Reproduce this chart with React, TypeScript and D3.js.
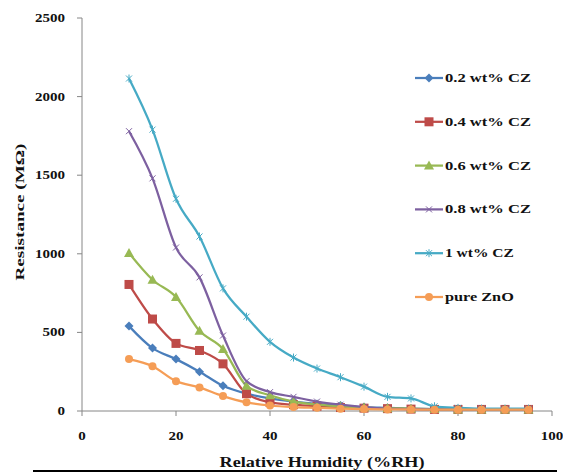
import React from "react";
import * as d3 from "d3";

const humidity = [10, 15, 20, 25, 30, 35, 40, 45, 50, 55, 60, 65, 70, 75, 80, 85, 90, 95];
const seriesNames = ["0.2 wt% CZ", "0.4 wt% CZ", "0.6 wt% CZ", "0.8 wt% CZ", "1 wt% CZ", "pure ZnO"];
const cz02 = [540, 400, 330, 250, 160, 110, 80, 60, 45, 35, 25, 20, 15, 12, 10, 10, 10, 10];
const cz04 = [805, 585, 430, 385, 300, 110, 55, 40, 30, 22, 18, 15, 12, 10, 10, 10, 10, 10];
const cz06 = [1005, 835, 725, 510, 395, 160, 100, 60, 40, 30, 22, 18, 15, 12, 10, 10, 10, 10];
const cz08 = [1780, 1480, 1040, 850, 480, 190, 120, 90, 60, 40, 25, 15, 12, 10, 10, 10, 10, 10];
const cz1 = [2115, 1790, 1350, 1110, 780, 600, 440, 340, 270, 215, 155, 90, 80, 30, 20, 15, 15, 15];
const pureZnO = [330, 285, 190, 150, 95, 55, 35, 25, 20, 15, 12, 10, 10, 8, 8, 8, 8, 8];
const xTicks = [0, 20, 40, 60, 80, 100];
const yTicks = [0, 500, 1000, 1500, 2000, 2500];

const seriesValues = [cz02, cz04, cz06, cz08, cz1, pureZnO];
const colors = ["#4a7ebb", "#be4b48", "#98b954", "#7d60a0", "#46aac5", "#f59d56"];
const markerKinds = ["diamond", "square", "triangle", "x", "star", "circle"];

const FONT = "'Liberation Serif', 'Times New Roman', serif";

function Marker({ kind, x, y, color }: { kind: string; x: number; y: number; color: string }) {
  if (kind === "diamond") {
    return <path d={`M${x},${y - 4.5}L${x + 4.5},${y}L${x},${y + 4.5}L${x - 4.5},${y}Z`} fill={color} />;
  }
  if (kind === "square") {
    return <rect x={x - 4.5} y={y - 4.5} width={9} height={9} fill={color} />;
  }
  if (kind === "triangle") {
    return <path d={`M${x},${y - 5}L${x + 5},${y + 4}L${x - 5},${y + 4}Z`} fill={color} />;
  }
  if (kind === "circle") {
    return <circle cx={x} cy={y} r={4} fill={color} />;
  }
  if (kind === "x") {
    return (
      <path d={`M${x - 3},${y - 3}L${x + 3},${y + 3}M${x - 3},${y + 3}L${x + 3},${y - 3}`} stroke={color} strokeWidth={1} />
    );
  }
  return (
    <path
      d={`M${x - 3},${y - 3}L${x + 3},${y + 3}M${x - 3},${y + 3}L${x + 3},${y - 3}M${x},${y - 4}L${x},${y + 4}`}
      stroke={color}
      strokeWidth={1}
    />
  );
}

export default function App() {
  const x = d3.scaleLinear().domain([0, 100]).range([82, 552]);
  const y = d3.scaleLinear().domain([0, 2500]).range([411, 18]);
  const line = d3
    .line<number>()
    .x((_, i) => x(humidity[i]))
    .y((d) => y(d))
    .curve(d3.curveMonotoneX);

  const legendY = d3.scalePoint<string>().domain(seriesNames).range([78, 297]);

  return (
    <svg width={563} height={474} style={{ position: "absolute", left: 0, top: 0, background: "#fff" }}>
      <line x1={82} y1={y(2500)} x2={82} y2={y(0)} stroke="#868686" strokeWidth={1} />
      <line x1={82} y1={y(0)} x2={x(100)} y2={y(0)} stroke="#868686" strokeWidth={1} />
      {yTicks.map((t) => (
        <g key={"y" + t}>
          <line x1={77} x2={82} y1={y(t)} y2={y(t)} stroke="#868686" />
          <text
            x={65}
            y={y(t) + 4}
            textAnchor="end"
            fontFamily={FONT}
            fontWeight="bold"
            fontSize={12}
            textLength={String(t).length * 7.5}
            lengthAdjust="spacingAndGlyphs"
            fill="#111"
          >
            {t}
          </text>
        </g>
      ))}
      {xTicks.map((t) => (
        <g key={"x" + t}>
          <line x1={x(t)} x2={x(t)} y1={y(0)} y2={y(0) + 5} stroke="#868686" />
          <text
            x={x(t)}
            y={y(0) + 29}
            textAnchor="middle"
            fontFamily={FONT}
            fontWeight="bold"
            fontSize={12}
            textLength={String(t).length * 7.5}
            lengthAdjust="spacingAndGlyphs"
            fill="#111"
          >
            {t}
          </text>
        </g>
      ))}

      {seriesValues.map((vals, si) => (
        <g key={"s" + si}>
          <path d={line(vals) || ""} fill="none" stroke={colors[si]} strokeWidth={2.25} />
          {vals.map((v, i) => (
            <Marker key={i} kind={markerKinds[si]} x={x(humidity[i])} y={y(v)} color={colors[si]} />
          ))}
        </g>
      ))}

      {seriesNames.map((name, si) => {
        const ly = legendY(name) as number;
        return (
          <g key={"l" + si}>
            <line x1={415} x2={443} y1={ly} y2={ly} stroke={colors[si]} strokeWidth={2.25} />
            <Marker kind={markerKinds[si]} x={429} y={ly} color={colors[si]} />
            <text
              x={445}
              y={ly + 4}
              fontFamily={FONT}
              fontSize={12}
              fontWeight="bold"
              textLength={name.length * 8.6}
              lengthAdjust="spacingAndGlyphs"
              fill="#111"
            >
              {name}
            </text>
          </g>
        );
      })}

      <text
        transform="translate(24,212) rotate(-90)"
        textAnchor="middle"
        fontFamily={FONT}
        fontWeight="bold"
        fontSize={13}
        textLength={137}
        lengthAdjust="spacingAndGlyphs"
        fill="#111"
      >
        Resistance (MΩ)
      </text>
      <text
        x={322}
        y={467}
        textAnchor="middle"
        fontFamily={FONT}
        fontWeight="bold"
        fontSize={14}
        textLength={205}
        lengthAdjust="spacingAndGlyphs"
        fill="#111"
      >
        Relative Humidity (%RH)
      </text>
      <line x1={33} x2={557} y1={471} y2={471} stroke="#000" strokeWidth={2} />
    </svg>
  );
}
